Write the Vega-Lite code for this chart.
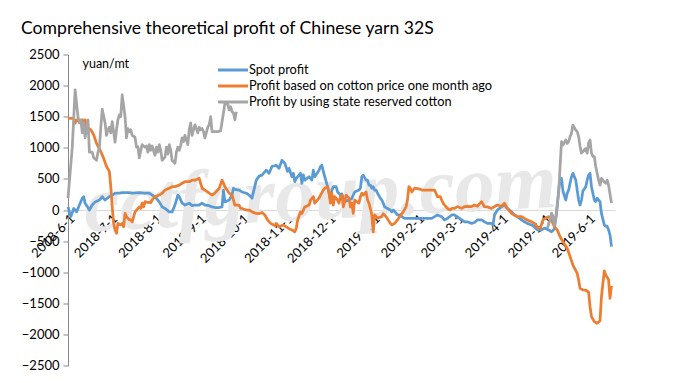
{
"$schema": "https://vega.github.io/schema/vega-lite/v6.json",
"width": 547, "height": 311,
"autosize": {"type": "none"},
"padding": {"left": 68, "top": 54.5, "right": 72, "bottom": 17.5},
"background": "white",
"title": {"text": "Comprehensive theoretical profit of Chinese yarn 32S", "anchor": "start", "frame": "group", "dx": -47, "dy": -7, "font": "Lato", "fontSize": 17.6, "fontWeight": "normal", "color": "#000"},
"config": {"view": {"stroke": null}, "font": "Lato"},
"datasets": {
"spot": [
{"d":"2018/06/01","v":50},{"d":"2018/06/03","v":-107},{"d":"2018/06/05","v":25},{"d":"2018/06/07","v":-30},{"d":"2018/06/09","v":80},{"d":"2018/06/11","v":190},{"d":"2018/06/12","v":215},{"d":"2018/06/13","v":110},{"d":"2018/06/16","v":0},{"d":"2018/06/18","v":80},{"d":"2018/06/20","v":130},{"d":"2018/06/23","v":160},{"d":"2018/06/25","v":215},{"d":"2018/06/27","v":160},{"d":"2018/06/30","v":215},{"d":"2018/07/02","v":240},{"d":"2018/07/04","v":270},{"d":"2018/07/07","v":270},{"d":"2018/07/09","v":280},{"d":"2018/07/11","v":280},{"d":"2018/07/14","v":280},{"d":"2018/07/16","v":270},{"d":"2018/07/21","v":280},{"d":"2018/07/24","v":270},{"d":"2018/07/28","v":270},{"d":"2018/07/30","v":240},{"d":"2018/08/01","v":215},{"d":"2018/08/04","v":130},{"d":"2018/08/06","v":50},{"d":"2018/08/08","v":25},{"d":"2018/08/11","v":-30},{"d":"2018/08/13","v":-30},{"d":"2018/08/15","v":80},{"d":"2018/08/17","v":240},{"d":"2018/08/18","v":215},{"d":"2018/08/20","v":110},{"d":"2018/08/22","v":80},{"d":"2018/08/25","v":110},{"d":"2018/08/27","v":70},{"d":"2018/08/29","v":80},{"d":"2018/09/01","v":80},{"d":"2018/09/03","v":110},{"d":"2018/09/05","v":80},{"d":"2018/09/08","v":70},{"d":"2018/09/10","v":50},{"d":"2018/09/12","v":40},{"d":"2018/09/15","v":40},{"d":"2018/09/17","v":50},{"d":"2018/09/18","v":320},{"d":"2018/09/19","v":130},{"d":"2018/09/22","v":160},{"d":"2018/09/24","v":240},{"d":"2018/09/25","v":350},{"d":"2018/09/26","v":330},{"d":"2018/09/29","v":320},{"d":"2018/10/01","v":290},{"d":"2018/10/04","v":270},{"d":"2018/10/06","v":240},{"d":"2018/10/08","v":190},{"d":"2018/10/11","v":480},{"d":"2018/10/13","v":545},{"d":"2018/10/15","v":560},{"d":"2018/10/18","v":640},{"d":"2018/10/20","v":590},{"d":"2018/10/22","v":700},{"d":"2018/10/25","v":720},{"d":"2018/10/27","v":670},{"d":"2018/10/29","v":800},{"d":"2018/10/31","v":750},{"d":"2018/11/02","v":620},{"d":"2018/11/03","v":670},{"d":"2018/11/05","v":535},{"d":"2018/11/06","v":590},{"d":"2018/11/07","v":455},{"d":"2018/11/08","v":510},{"d":"2018/11/09","v":535},{"d":"2018/11/11","v":590},{"d":"2018/11/12","v":430},{"d":"2018/11/13","v":565},{"d":"2018/11/14","v":480},{"d":"2018/11/17","v":535},{"d":"2018/11/19","v":480},{"d":"2018/11/20","v":640},{"d":"2018/11/21","v":535},{"d":"2018/11/24","v":640},{"d":"2018/11/25","v":700},{"d":"2018/11/26","v":720},{"d":"2018/11/27","v":620},{"d":"2018/11/28","v":535},{"d":"2018/11/30","v":375},{"d":"2018/12/01","v":270},{"d":"2018/12/02","v":160},{"d":"2018/12/03","v":320},{"d":"2018/12/04","v":375},{"d":"2018/12/06","v":375},{"d":"2018/12/07","v":290},{"d":"2018/12/09","v":240},{"d":"2018/12/10","v":260},{"d":"2018/12/11","v":190},{"d":"2018/12/12","v":135},{"d":"2018/12/15","v":160},{"d":"2018/12/17","v":185},{"d":"2018/12/18","v":240},{"d":"2018/12/19","v":290},{"d":"2018/12/22","v":320},{"d":"2018/12/23","v":350},{"d":"2018/12/24","v":535},{"d":"2018/12/25","v":560},{"d":"2018/12/27","v":480},{"d":"2018/12/28","v":480},{"d":"2018/12/29","v":400},{"d":"2018/12/30","v":400},{"d":"2018/12/31","v":350},{"d":"2019/01/01","v":375},{"d":"2019/01/02","v":320},{"d":"2019/01/03","v":320},{"d":"2019/01/04","v":270},{"d":"2019/01/06","v":190},{"d":"2019/01/07","v":160},{"d":"2019/01/08","v":110},{"d":"2019/01/09","v":50},{"d":"2019/01/11","v":25},{"d":"2019/01/13","v":0},{"d":"2019/01/14","v":-30},{"d":"2019/01/15","v":0},{"d":"2019/01/17","v":-50},{"d":"2019/01/18","v":-80},{"d":"2019/01/20","v":-80},{"d":"2019/01/21","v":-107},{"d":"2019/01/23","v":-135},{"d":"2019/01/28","v":-135},{"d":"2019/02/04","v":-135},{"d":"2019/02/11","v":-135},{"d":"2019/02/13","v":-107},{"d":"2019/02/15","v":-80},{"d":"2019/02/18","v":-107},{"d":"2019/02/20","v":-160},{"d":"2019/02/22","v":-135},{"d":"2019/02/25","v":-80},{"d":"2019/02/27","v":-80},{"d":"2019/03/01","v":-110},{"d":"2019/03/04","v":-160},{"d":"2019/03/06","v":-190},{"d":"2019/03/08","v":-190},{"d":"2019/03/11","v":-215},{"d":"2019/03/13","v":-200},{"d":"2019/03/15","v":-160},{"d":"2019/03/18","v":-160},{"d":"2019/03/20","v":-190},{"d":"2019/03/22","v":-215},{"d":"2019/03/25","v":-215},{"d":"2019/03/26","v":-240},{"d":"2019/03/27","v":-80},{"d":"2019/03/29","v":0},{"d":"2019/04/01","v":50},{"d":"2019/04/03","v":80},{"d":"2019/04/05","v":25},{"d":"2019/04/08","v":-30},{"d":"2019/04/10","v":-80},{"d":"2019/04/12","v":-107},{"d":"2019/04/15","v":-160},{"d":"2019/04/17","v":-190},{"d":"2019/04/19","v":-215},{"d":"2019/04/22","v":-240},{"d":"2019/04/24","v":-270},{"d":"2019/04/26","v":-320},{"d":"2019/04/29","v":-320},{"d":"2019/05/01","v":-290},{"d":"2019/05/04","v":-320},{"d":"2019/05/06","v":-350},{"d":"2019/05/07","v":-330},{"d":"2019/05/08","v":-300},{"d":"2019/05/09","v":-135},{"d":"2019/05/10","v":50},{"d":"2019/05/11","v":320},{"d":"2019/05/12","v":510},{"d":"2019/05/13","v":510},{"d":"2019/05/14","v":305},{"d":"2019/05/16","v":160},{"d":"2019/05/17","v":270},{"d":"2019/05/18","v":320},{"d":"2019/05/19","v":430},{"d":"2019/05/20","v":535},{"d":"2019/05/21","v":590},{"d":"2019/05/23","v":480},{"d":"2019/05/24","v":320},{"d":"2019/05/25","v":160},{"d":"2019/05/26","v":80},{"d":"2019/05/27","v":160},{"d":"2019/05/28","v":305},{"d":"2019/05/30","v":375},{"d":"2019/05/31","v":480},{"d":"2019/06/01","v":560},{"d":"2019/06/02","v":590},{"d":"2019/06/03","v":375},{"d":"2019/06/04","v":270},{"d":"2019/06/05","v":160},{"d":"2019/06/06","v":135},{"d":"2019/06/07","v":190},{"d":"2019/06/08","v":160},{"d":"2019/06/09","v":135},{"d":"2019/06/10","v":-55},{"d":"2019/06/12","v":-240},{"d":"2019/06/13","v":-260},{"d":"2019/06/14","v":-260},{"d":"2019/06/15","v":-320},{"d":"2019/06/16","v":-400},{"d":"2019/06/17","v":-590}
],
"month": [
{"d":"2018/06/01","v":1475},{"d":"2018/06/05","v":1475},{"d":"2018/06/06","v":1395},{"d":"2018/06/07","v":1450},{"d":"2018/06/09","v":1420},{"d":"2018/06/11","v":1450},{"d":"2018/06/12","v":1395},{"d":"2018/06/13","v":1450},{"d":"2018/06/14","v":1340},{"d":"2018/06/17","v":1290},{"d":"2018/06/19","v":1210},{"d":"2018/06/21","v":1070},{"d":"2018/06/24","v":940},{"d":"2018/06/26","v":830},{"d":"2018/06/28","v":700},{"d":"2018/06/30","v":620},{"d":"2018/07/01","v":375},{"d":"2018/07/02","v":50},{"d":"2018/07/03","v":-215},{"d":"2018/07/04","v":-320},{"d":"2018/07/05","v":-375},{"d":"2018/07/06","v":-215},{"d":"2018/07/08","v":-240},{"d":"2018/07/09","v":-215},{"d":"2018/07/10","v":-270},{"d":"2018/07/11","v":-55},{"d":"2018/07/12","v":-107},{"d":"2018/07/14","v":-160},{"d":"2018/07/15","v":-160},{"d":"2018/07/16","v":-190},{"d":"2018/07/18","v":-30},{"d":"2018/07/21","v":50},{"d":"2018/07/22","v":25},{"d":"2018/07/23","v":110},{"d":"2018/07/24","v":50},{"d":"2018/07/25","v":135},{"d":"2018/07/27","v":120},{"d":"2018/07/28","v":125},{"d":"2018/07/29","v":120},{"d":"2018/07/30","v":160},{"d":"2018/07/31","v":190},{"d":"2018/08/01","v":215},{"d":"2018/08/04","v":240},{"d":"2018/08/06","v":270},{"d":"2018/08/08","v":320},{"d":"2018/08/11","v":350},{"d":"2018/08/13","v":375},{"d":"2018/08/15","v":375},{"d":"2018/08/18","v":400},{"d":"2018/08/20","v":430},{"d":"2018/08/22","v":455},{"d":"2018/08/25","v":455},{"d":"2018/08/27","v":480},{"d":"2018/08/29","v":480},{"d":"2018/09/01","v":510},{"d":"2018/09/02","v":430},{"d":"2018/09/03","v":350},{"d":"2018/09/05","v":320},{"d":"2018/09/08","v":270},{"d":"2018/09/10","v":240},{"d":"2018/09/12","v":270},{"d":"2018/09/15","v":350},{"d":"2018/09/17","v":480},{"d":"2018/09/19","v":375},{"d":"2018/09/22","v":270},{"d":"2018/09/24","v":240},{"d":"2018/09/25","v":160},{"d":"2018/09/26","v":80},{"d":"2018/09/29","v":80},{"d":"2018/09/30","v":25},{"d":"2018/10/01","v":25},{"d":"2018/10/04","v":0},{"d":"2018/10/06","v":0},{"d":"2018/10/08","v":-30},{"d":"2018/10/11","v":-55},{"d":"2018/10/13","v":-60},{"d":"2018/10/15","v":-40},{"d":"2018/10/17","v":-80},{"d":"2018/10/19","v":-160},{"d":"2018/10/21","v":-215},{"d":"2018/10/24","v":-250},{"d":"2018/10/25","v":-215},{"d":"2018/10/27","v":-270},{"d":"2018/10/30","v":-240},{"d":"2018/11/01","v":-270},{"d":"2018/11/03","v":-300},{"d":"2018/11/05","v":-320},{"d":"2018/11/07","v":-350},{"d":"2018/11/08","v":-300},{"d":"2018/11/09","v":-160},{"d":"2018/11/11","v":-30},{"d":"2018/11/12","v":-55},{"d":"2018/11/14","v":50},{"d":"2018/11/17","v":80},{"d":"2018/11/18","v":160},{"d":"2018/11/20","v":215},{"d":"2018/11/21","v":110},{"d":"2018/11/24","v":190},{"d":"2018/11/25","v":240},{"d":"2018/11/27","v":320},{"d":"2018/11/28","v":350},{"d":"2018/11/30","v":375},{"d":"2018/12/01","v":290},{"d":"2018/12/02","v":110},{"d":"2018/12/03","v":270},{"d":"2018/12/04","v":80},{"d":"2018/12/05","v":215},{"d":"2018/12/07","v":160},{"d":"2018/12/08","v":110},{"d":"2018/12/09","v":215},{"d":"2018/12/10","v":240},{"d":"2018/12/11","v":50},{"d":"2018/12/12","v":135},{"d":"2018/12/13","v":240},{"d":"2018/12/15","v":190},{"d":"2018/12/16","v":50},{"d":"2018/12/17","v":110},{"d":"2018/12/18","v":-55},{"d":"2018/12/19","v":160},{"d":"2018/12/22","v":110},{"d":"2018/12/23","v":215},{"d":"2018/12/24","v":270},{"d":"2018/12/25","v":240},{"d":"2018/12/27","v":290},{"d":"2018/12/28","v":160},{"d":"2018/12/29","v":110},{"d":"2018/12/30","v":25},{"d":"2018/12/31","v":-80},{"d":"2019/01/01","v":-350},{"d":"2019/01/02","v":-80},{"d":"2019/01/03","v":-100},{"d":"2019/01/04","v":-130},{"d":"2019/01/07","v":-107},{"d":"2019/01/08","v":-60},{"d":"2019/01/10","v":-107},{"d":"2019/01/13","v":-215},{"d":"2019/01/14","v":-240},{"d":"2019/01/16","v":-215},{"d":"2019/01/18","v":-160},{"d":"2019/01/20","v":-90},{"d":"2019/01/22","v":-30},{"d":"2019/01/24","v":50},{"d":"2019/01/25","v":160},{"d":"2019/01/26","v":375},{"d":"2019/01/27","v":350},{"d":"2019/01/28","v":290},{"d":"2019/01/30","v":350},{"d":"2019/02/02","v":340},{"d":"2019/02/04","v":320},{"d":"2019/02/13","v":320},{"d":"2019/02/14","v":270},{"d":"2019/02/15","v":215},{"d":"2019/02/17","v":215},{"d":"2019/02/18","v":160},{"d":"2019/02/19","v":110},{"d":"2019/02/20","v":80},{"d":"2019/02/22","v":25},{"d":"2019/02/24","v":0},{"d":"2019/02/25","v":25},{"d":"2019/02/27","v":25},{"d":"2019/03/01","v":55},{"d":"2019/03/04","v":25},{"d":"2019/03/06","v":55},{"d":"2019/03/08","v":60},{"d":"2019/03/11","v":55},{"d":"2019/03/13","v":80},{"d":"2019/03/15","v":60},{"d":"2019/03/18","v":135},{"d":"2019/03/20","v":50},{"d":"2019/03/22","v":50},{"d":"2019/03/25","v":25},{"d":"2019/03/27","v":55},{"d":"2019/03/29","v":80},{"d":"2019/04/01","v":60},{"d":"2019/04/03","v":110},{"d":"2019/04/05","v":25},{"d":"2019/04/08","v":-55},{"d":"2019/04/10","v":-80},{"d":"2019/04/12","v":-107},{"d":"2019/04/15","v":-107},{"d":"2019/04/17","v":-135},{"d":"2019/04/19","v":-160},{"d":"2019/04/22","v":-190},{"d":"2019/04/24","v":-215},{"d":"2019/04/26","v":-270},{"d":"2019/04/28","v":-300},{"d":"2019/04/30","v":-160},{"d":"2019/05/02","v":-130},{"d":"2019/05/04","v":-107},{"d":"2019/05/06","v":-160},{"d":"2019/05/07","v":-215},{"d":"2019/05/08","v":-270},{"d":"2019/05/10","v":-320},{"d":"2019/05/12","v":-430},{"d":"2019/05/14","v":-510},{"d":"2019/05/17","v":-615},{"d":"2019/05/19","v":-750},{"d":"2019/05/21","v":-885},{"d":"2019/05/24","v":-1020},{"d":"2019/05/25","v":-1125},{"d":"2019/05/26","v":-1260},{"d":"2019/05/28","v":-1285},{"d":"2019/05/30","v":-1290},{"d":"2019/06/01","v":-1320},{"d":"2019/06/02","v":-1555},{"d":"2019/06/03","v":-1715},{"d":"2019/06/05","v":-1795},{"d":"2019/06/07","v":-1820},{"d":"2019/06/09","v":-1780},{"d":"2019/06/10","v":-1395},{"d":"2019/06/12","v":-980},{"d":"2019/06/13","v":-1045},{"d":"2019/06/15","v":-1120},{"d":"2019/06/16","v":-1420},{"d":"2019/06/17","v":-1220}
],
"state1": [
{"d":"2018/06/01","v":190},{"d":"2018/06/04","v":1010},{"d":"2018/06/06","v":1930},{"d":"2018/06/08","v":1500},{"d":"2018/06/09","v":1400},{"d":"2018/06/10","v":1450},{"d":"2018/06/11","v":1240},{"d":"2018/06/12","v":1400},{"d":"2018/06/13","v":1160},{"d":"2018/06/15","v":1450},{"d":"2018/06/16","v":930},{"d":"2018/06/18","v":930},{"d":"2018/06/19","v":840},{"d":"2018/06/21","v":800},{"d":"2018/06/22","v":930},{"d":"2018/06/23","v":1000},{"d":"2018/06/24","v":1330},{"d":"2018/06/25","v":1620},{"d":"2018/06/27","v":1400},{"d":"2018/06/28","v":1200},{"d":"2018/06/29","v":1290},{"d":"2018/06/30","v":1330},{"d":"2018/07/01","v":1240},{"d":"2018/07/02","v":1420},{"d":"2018/07/04","v":1090},{"d":"2018/07/05","v":1290},{"d":"2018/07/06","v":1450},{"d":"2018/07/07","v":1530},{"d":"2018/07/08","v":1500},{"d":"2018/07/09","v":1850},{"d":"2018/07/11","v":1500},{"d":"2018/07/12","v":1160},{"d":"2018/07/13","v":1310},{"d":"2018/07/14","v":1260},{"d":"2018/07/15","v":1290},{"d":"2018/07/16","v":1200},{"d":"2018/07/18","v":1170},{"d":"2018/07/19","v":1010},{"d":"2018/07/20","v":1020},{"d":"2018/07/21","v":840},{"d":"2018/07/22","v":960},{"d":"2018/07/23","v":1050},{"d":"2018/07/25","v":1010},{"d":"2018/07/26","v":1030},{"d":"2018/07/27","v":930},{"d":"2018/07/28","v":1050},{"d":"2018/07/29","v":960},{"d":"2018/07/30","v":1030},{"d":"2018/08/01","v":880},{"d":"2018/08/02","v":1010},{"d":"2018/08/03","v":930},{"d":"2018/08/04","v":1050},{"d":"2018/08/05","v":960},{"d":"2018/08/06","v":800},{"d":"2018/08/08","v":850},{"d":"2018/08/09","v":1010},{"d":"2018/08/10","v":900},{"d":"2018/08/11","v":1050},{"d":"2018/08/12","v":960},{"d":"2018/08/13","v":800},{"d":"2018/08/15","v":750},{"d":"2018/08/16","v":930},{"d":"2018/08/17","v":1010},{"d":"2018/08/18","v":960},{"d":"2018/08/19","v":1030},{"d":"2018/08/20","v":1160},{"d":"2018/08/21","v":1100},{"d":"2018/08/22","v":1200},{"d":"2018/08/24","v":1050},{"d":"2018/08/25","v":1290},{"d":"2018/08/26","v":1400},{"d":"2018/08/27","v":1200},{"d":"2018/08/28","v":1290},{"d":"2018/08/29","v":1370},{"d":"2018/08/31","v":1240},{"d":"2018/09/01","v":1330},{"d":"2018/09/02","v":1290},{"d":"2018/09/03","v":1310},{"d":"2018/09/04","v":1260},{"d":"2018/09/05","v":1160},{"d":"2018/09/07","v":1330},{"d":"2018/09/08","v":1370},{"d":"2018/09/09","v":1500},{"d":"2018/09/10","v":1260},{"d":"2018/09/12","v":1260},{"d":"2018/09/14","v":1260},{"d":"2018/09/16","v":1270},{"d":"2018/09/17","v":1420},{"d":"2018/09/18","v":1560},{"d":"2018/09/19","v":1720},{"d":"2018/09/21","v":1700},{"d":"2018/09/22","v":1610},{"d":"2018/09/23","v":1660},{"d":"2018/09/24","v":1580},{"d":"2018/09/25","v":1560},{"d":"2018/09/26","v":1450},{"d":"2018/09/27","v":1580}
],
"state2": [
{"d":"2019/05/03","v":-295},{"d":"2019/05/05","v":-160},{"d":"2019/05/06","v":-50},{"d":"2019/05/07","v":-100},{"d":"2019/05/08","v":-250},{"d":"2019/05/09","v":-130},{"d":"2019/05/10","v":100},{"d":"2019/05/11","v":270},{"d":"2019/05/12","v":700},{"d":"2019/05/13","v":1100},{"d":"2019/05/14","v":1045},{"d":"2019/05/16","v":1125},{"d":"2019/05/17","v":1070},{"d":"2019/05/18","v":1100},{"d":"2019/05/19","v":1180},{"d":"2019/05/20","v":1235},{"d":"2019/05/21","v":1365},{"d":"2019/05/23","v":1285},{"d":"2019/05/24","v":1260},{"d":"2019/05/25","v":1180},{"d":"2019/05/26","v":1020},{"d":"2019/05/27","v":915},{"d":"2019/05/28","v":940},{"d":"2019/05/30","v":990},{"d":"2019/05/31","v":915},{"d":"2019/06/01","v":1075},{"d":"2019/06/02","v":1125},{"d":"2019/06/03","v":915},{"d":"2019/06/04","v":860},{"d":"2019/06/05","v":860},{"d":"2019/06/06","v":700},{"d":"2019/06/07","v":590},{"d":"2019/06/08","v":480},{"d":"2019/06/09","v":400},{"d":"2019/06/10","v":510},{"d":"2019/06/12","v":450},{"d":"2019/06/13","v":430},{"d":"2019/06/14","v":480},{"d":"2019/06/15","v":400},{"d":"2019/06/17","v":110}
]
},
"encoding": {
"x": {"field": "d", "type": "temporal",
 "scale": {"domain": [{"year": 2018, "month": 6, "date": 1}, {"year": 2019, "month": 6, "date": 19, "hours": 12}]},
 "axis": {"title": null, "values": [{"year":2018,"month":6,"date":1},{"year":2018,"month":7,"date":1},{"year":2018,"month":8,"date":1},{"year":2018,"month":9,"date":1},{"year":2018,"month":10,"date":1},{"year":2018,"month":11,"date":1},{"year":2018,"month":12,"date":1},{"year":2019,"month":1,"date":1},{"year":2019,"month":2,"date":1},{"year":2019,"month":3,"date":1},{"year":2019,"month":4,"date":1},{"year":2019,"month":5,"date":1},{"year":2019,"month":6,"date":1}],
  "format": "%Y-%-m-%-d", "labelAngle": -45, "labelAlign": "right", "labelBaseline": "top", "labelFont": "Lato", "labelFontSize": 13, "labelColor": "#000", "labelPadding": 2, "ticks": false, "domainColor": "#d9d9d9", "domainWidth": 1, "grid": false, "offset": -155.5, "labelOverlap": false, "labelBound": false, "labelFlush": false}},
"y": {"field": "v", "type": "quantitative",
 "scale": {"domain": [-2500, 2500], "nice": false, "zero": false},
 "axis": {"title": "yuan/mt", "titleAngle": 0, "titleX": 14, "titleY": 9, "titleAlign": "left", "titleBaseline": "middle", "titleFont": "Lato", "titleFontSize": 12.5, "titleFontWeight": "normal", "titleColor": "#000",
  "values": [-2500, -2000, -1500, -1000, -500, 0, 500, 1000, 1500, 2000, 2500], "format": "d", "labelFont": "Lato", "labelFontSize": 13, "labelColor": "#000", "labelPadding": 4, "tickSize": 5, "tickColor": "#898989", "domainColor": "#898989", "grid": false}}
},
"layer": [
{"data": {"values": [{"d": "2018/11/25", "v": 240, "t": "cctfgroup.com"}]},
 "mark": {"type": "text", "font": "Liberation Serif", "fontStyle": "italic", "fontWeight": "bold", "fontSize": 80, "color": "#e8e8e8", "angle": -3, "align": "center", "baseline": "middle"},
 "encoding": {"text": {"field": "t"}}},
{"data": {"name": "spot"},
 "mark": {"type": "line", "strokeWidth": 2.75, "strokeJoin": "round"},
 "encoding": {"color": {"datum": "Spot profit", "type": "nominal",
  "scale": {"domain": ["Spot profit", "Profit based on cotton price one month ago", "Profit by using state reserved cotton"], "range": ["#5b9bd5", "#ed7d31", "#a5a5a5"]},
  "legend": {"title": null, "orient": "none", "legendX": 156.5, "legendY": 7, "symbolType": "M-2.14,0H2.14", "symbolSize": 196, "symbolStrokeWidth": 3, "labelFont": "Lato", "labelFontSize": 12.8, "labelColor": "#000", "labelOffset": 7.5, "rowPadding": 0, "labelLimit": 400, "padding": 0}}}},
{"data": {"name": "month"},
 "mark": {"type": "line", "strokeWidth": 2.75, "strokeJoin": "round"},
 "encoding": {"color": {"datum": "Profit based on cotton price one month ago", "type": "nominal"}}},
{"data": {"name": "state1"},
 "mark": {"type": "line", "strokeWidth": 2.75, "strokeJoin": "round"},
 "encoding": {"color": {"datum": "Profit by using state reserved cotton", "type": "nominal"}}},
{"data": {"name": "state2"},
 "mark": {"type": "line", "strokeWidth": 2.75, "strokeJoin": "round"},
 "encoding": {"color": {"datum": "Profit by using state reserved cotton", "type": "nominal"}}}
]
}
